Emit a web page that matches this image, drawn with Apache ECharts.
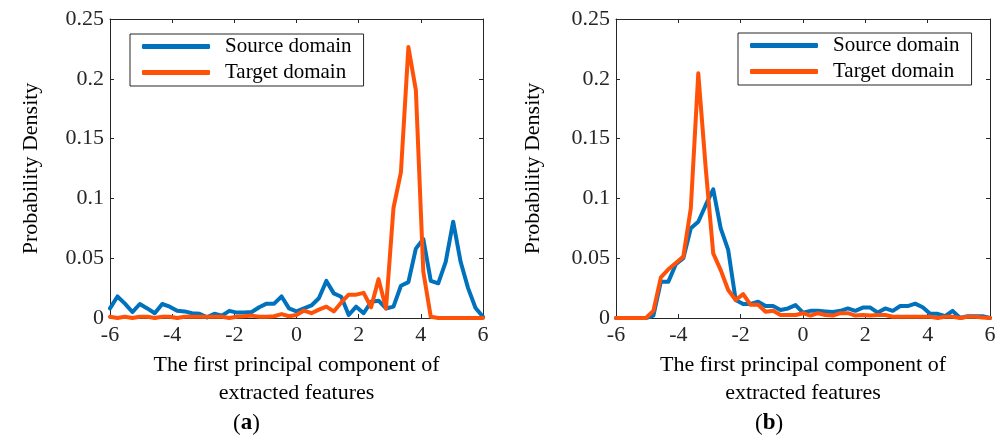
<!DOCTYPE html>
<html>
<head>
<meta charset="utf-8">
<script src="https://cdn.jsdelivr.net/npm/echarts@6/dist/echarts.min.js"></script>
<style>
  html, body { margin: 0; padding: 0; background: #fff; }
  #chart { width: 1005px; height: 441px; }
</style>
</head>
<body>
<div id="chart"></div>
<script>
// x positions of the density estimate (same for both panels)
var xs = [-6, -5.76, -5.52, -5.28, -5.04, -4.8, -4.56, -4.32, -4.08, -3.84,
  -3.6, -3.36, -3.12, -2.88, -2.64, -2.4, -2.16, -1.92, -1.68, -1.44,
  -1.2, -0.96, -0.72, -0.48, -0.24, 0, 0.24, 0.48, 0.72, 0.96,
  1.2, 1.44, 1.68, 1.92, 2.16, 2.4, 2.64, 2.88, 3.12, 3.36,
  3.6, 3.84, 4.08, 4.32, 4.56, 4.8, 5.04, 5.28, 5.52, 5.76, 6]

// (a)
var sourceA = [0.008, 0.018, 0.012, 0.005, 0.0117, 0.008, 0.004, 0.0117, 0.0095, 0.006,
  0.0055, 0.004, 0.0036, 0.0005, 0.0036, 0.002, 0.006, 0.0045, 0.0045, 0.005,
  0.009, 0.012, 0.012, 0.018, 0.008, 0.0055, 0.008, 0.0105, 0.0165, 0.031,
  0.0206, 0.0178, 0.0025, 0.0095, 0.004, 0.0136, 0.0145, 0.008, 0.0095, 0.027,
  0.03, 0.058, 0.066, 0.031, 0.029, 0.047, 0.0805, 0.047, 0.025, 0.0084, 0.001]
var targetA = [0.001, 0, 0.001, 0, 0.001, 0.001, 0, 0.001, 0.001, 0,
  0.001, 0.001, 0.001, 0.001, 0.001, 0.001, 0, 0.001, 0.0015, 0.002,
  0.001, 0.001, 0.0015, 0.0033, 0.0015, 0.0025, 0.0062, 0.004, 0.007, 0.0095,
  0.0055, 0.013, 0.0195, 0.0195, 0.021, 0.009, 0.0325, 0.008, 0.092, 0.122,
  0.2265, 0.1905, 0.0387, 0.001, 0, 0, 0, 0, 0, 0, 0]

// (b)
var sourceB = [0, 0, 0, 0, 0, 0.002, 0.0304, 0.0304, 0.045, 0.05,
  0.075, 0.0805, 0.0945, 0.1076, 0.075, 0.0569, 0.015, 0.0117, 0.0117, 0.0136,
  0.01, 0.01, 0.0067, 0.008, 0.0108, 0.0045, 0.006, 0.006, 0.0055, 0.005,
  0.006, 0.008, 0.006, 0.0087, 0.0087, 0.0045, 0.008, 0.006, 0.01, 0.01,
  0.012, 0.009, 0.0035, 0.0035, 0.0015, 0.006, 0, 0.0015, 0.0015, 0.0015, 0]
var targetB = [0, 0, 0, 0, 0, 0.006, 0.034, 0.0407, 0.046, 0.0513,
  0.0917, 0.2046, 0.125, 0.054, 0.04, 0.0234, 0.015, 0.02, 0.011, 0.011,
  0.0053, 0.006, 0.0025, 0.0025, 0.0025, 0.004, 0.002, 0.004, 0.0025, 0.002,
  0.004, 0.004, 0.002, 0.0025, 0.002, 0.0025, 0.0025, 0.001, 0.001, 0.001,
  0.001, 0.001, 0.001, 0, 0.001, 0.001, 0, 0.001, 0.001, 0.0005, 0]

var xTicks = [-6, -4, -2, 0, 2, 4, 6]
var yTicks = [0, 0.05, 0.1, 0.15, 0.2, 0.25]

var FONT = 'Liberation Serif'
var AXIS = '#262626'
var BLUE = '#0072BD'
var ORANGE = '#FF5208'

function pairs(ys) {
  return xs.map(function (x, i) { return [x, ys[i]] })
}

function xAxisFor(grid, top) {
  return {
    type: 'value',
    gridIndex: grid,
    position: top ? 'top' : 'bottom',
    min: xTicks[0],
    max: xTicks[xTicks.length - 1],
    interval: 2,
    name: top ? '' : 'The first principal component of\nextracted features',
    nameLocation: 'middle',
    nameGap: 24,
    nameTextStyle: { fontFamily: FONT, fontSize: 22, color: '#000', lineHeight: 28 },
    axisLine: { show: true, onZero: false, lineStyle: { color: AXIS, width: 1 } },
    axisTick: { show: true, inside: true, length: 4, lineStyle: { color: AXIS } },
    axisLabel: { show: !top, margin: 6, fontFamily: FONT, fontSize: 22, color: AXIS },
    splitLine: { show: false }
  }
}

function yAxisFor(grid, right, gap) {
  return {
    type: 'value',
    gridIndex: grid,
    position: right ? 'right' : 'left',
    min: yTicks[0],
    max: yTicks[yTicks.length - 1],
    interval: 0.05,
    name: right ? '' : 'Probability Density',
    nameLocation: 'middle',
    nameRotate: 90,
    nameGap: gap,
    nameTextStyle: { fontFamily: FONT, fontSize: 22, color: '#000' },
    axisLine: { show: true, onZero: false, lineStyle: { color: AXIS, width: 1 } },
    axisTick: { show: true, inside: true, length: 4, lineStyle: { color: AXIS } },
    axisLabel: { show: !right, margin: 6, fontFamily: FONT, fontSize: 22, color: AXIS },
    splitLine: { show: false }
  }
}

function line(name, color, ys, idx) {
  return {
    name: name,
    type: 'line',
    xAxisIndex: idx,
    yAxisIndex: idx,
    data: pairs(ys),
    symbol: 'none',
    color: color,
    lineStyle: { width: 4, color: color, cap: 'round', join: 'round' },
    animation: false
  }
}

function legendAt(left, top) {
  return {
    left: left,
    top: top,
    orient: 'vertical',
    data: ['Source domain', 'Target domain'],
    icon: 'roundRect',
    itemWidth: 68,
    itemHeight: 5,
    itemGap: 5,
    padding: [2, 12, 3, 12],
    borderColor: AXIS,
    borderWidth: 1,
    backgroundColor: '#fff',
    selectedMode: false,
    textStyle: { fontFamily: FONT, fontSize: 21, lineHeight: 20, color: '#000', padding: [0, 0, 0, 10] }
  }
}

var chart = echarts.init(document.getElementById('chart'))

chart.setOption({
  backgroundColor: '#fff',
  animation: false,
  grid: [
    { left: 110, top: 19, width: 373, height: 299 },
    { left: 616, top: 19, width: 374, height: 299 }
  ],
  xAxis: [xAxisFor(0, false), xAxisFor(0, true), xAxisFor(1, false), xAxisFor(1, true)],
  yAxis: [yAxisFor(0, false, 68), yAxisFor(0, true, 0), yAxisFor(1, false, 72), yAxisFor(1, true, 0)],
  legend: [legendAt(130, 34), legendAt(738, 33)],
  series: [
    line('Source domain', BLUE, sourceA, 0),
    line('Target domain', ORANGE, targetA, 0),
    line('Source domain', BLUE, sourceB, 2),
    line('Target domain', ORANGE, targetB, 2)
  ],
  graphic: [
    {
      type: 'text', left: 233, top: 412,
      style: { text: '{n|(}{b|a}{n|)}', rich: {
        n: { fontFamily: FONT, fontSize: 23, fill: '#000' },
        b: { fontFamily: FONT, fontSize: 23, fontWeight: 'bold', fill: '#000' }
      } }
    },
    {
      type: 'text', left: 755, top: 412,
      style: { text: '{n|(}{b|b}{n|)}', rich: {
        n: { fontFamily: FONT, fontSize: 23, fill: '#000' },
        b: { fontFamily: FONT, fontSize: 23, fontWeight: 'bold', fill: '#000' }
      } }
    }
  ]
})
</script>
</body>
</html>
